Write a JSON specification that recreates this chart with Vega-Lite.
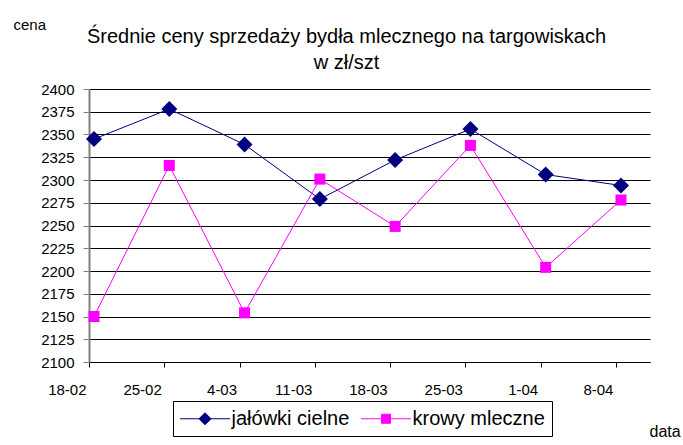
{
  "$schema": "https://vega.github.io/schema/vega-lite/v6.json",
  "autosize": "none",
  "width": 561,
  "height": 273,
  "padding": {"left": 89, "top": 89, "right": 33, "bottom": 83},
  "background": "white",
  "config": {
    "font": "Liberation Sans",
    "view": {"stroke": null},
    "axis": {"labelColor": "black", "titleColor": "black", "titleFontWeight": "normal"}
  },
  "title": {
    "text": ["Średnie ceny sprzedaży bydła mlecznego na targowiskach", "w zł/szt"],
    "fontSize": 20,
    "fontWeight": "normal",
    "color": "black",
    "anchor": "middle",
    "frame": "group",
    "baseline": "bottom",
    "lineHeight": 26.6,
    "dx": -23,
    "dy": 93,
    "offset": 17
  },
  "data": {
    "values": [
      {"data": "18-02", "seria": "jałówki cielne", "cena": 2345},
      {"data": "18-02", "seria": "krowy mleczne", "cena": 2150},
      {"data": "25-02", "seria": "jałówki cielne", "cena": 2378},
      {"data": "25-02", "seria": "krowy mleczne", "cena": 2316},
      {"data": "4-03", "seria": "jałówki cielne", "cena": 2339},
      {"data": "4-03", "seria": "krowy mleczne", "cena": 2154},
      {"data": "11-03", "seria": "jałówki cielne", "cena": 2279},
      {"data": "11-03", "seria": "krowy mleczne", "cena": 2301},
      {"data": "18-03", "seria": "jałówki cielne", "cena": 2322},
      {"data": "18-03", "seria": "krowy mleczne", "cena": 2249},
      {"data": "25-03", "seria": "jałówki cielne", "cena": 2356},
      {"data": "25-03", "seria": "krowy mleczne", "cena": 2338},
      {"data": "1-04", "seria": "jałówki cielne", "cena": 2306},
      {"data": "1-04", "seria": "krowy mleczne", "cena": 2204},
      {"data": "8-04", "seria": "jałówki cielne", "cena": 2294},
      {"data": "8-04", "seria": "krowy mleczne", "cena": 2278}
    ]
  },
  "encoding": {
    "x": {
      "field": "data",
      "type": "ordinal",
      "sort": null,
      "scale": {"type": "point", "padding": 0.226, "align": 0.147},
      "axis": {
        "title": "data",
        "titleFontSize": 16,
        "titleAlign": "left",
        "titleBaseline": "alphabetic",
        "titleX": 560,
        "titleY": 74,
        "labelAngle": 0,
        "labelFontSize": 15,
        "labelAlign": "right",
        "labelBaseline": "alphabetic",
        "labelOffset": -3,
        "labelPadding": 27,
        "tickOffset": -5,
        "tickSize": 5,
        "tickColor": "black",
        "domainColor": "black",
        "domainWidth": 1,
        "grid": false
      }
    },
    "y": {
      "field": "cena",
      "type": "quantitative",
      "scale": {"domain": [2100, 2400], "nice": false, "zero": false},
      "axis": {
        "title": "cena",
        "titleFontSize": 15,
        "titleAngle": 0,
        "titleAlign": "left",
        "titleBaseline": "alphabetic",
        "titleX": -76,
        "titleY": -59.5,
        "values": [2100, 2125, 2150, 2175, 2200, 2225, 2250, 2275, 2300, 2325, 2350, 2375, 2400],
        "format": "d",
        "labelFontSize": 15,
        "labelPadding": 9,
        "tickSize": 6,
        "tickColor": "#808080",
        "domainColor": "#808080",
        "domainWidth": 2,
        "grid": true,
        "gridColor": "black",
        "gridWidth": 1,
        "gridOpacity": 1
      }
    }
  },
  "layer": [
    {
      "mark": {"type": "line", "strokeWidth": 1},
      "encoding": {
        "color": {
          "field": "seria",
          "type": "nominal",
          "scale": {"domain": ["jałówki cielne", "krowy mleczne"], "range": ["#000080", "#FF00FF"]},
          "legend": {
            "title": null,
            "orient": "none",
            "legendX": 84,
            "legendY": 312,
            "direction": "horizontal",
            "strokeColor": "black",
            "padding": 7,
            "labelFontSize": 20,
            "labelColor": "black",
            "symbolSize": 400,
            "symbolOffset": 14.5,
            "labelOffset": 16,
            "columnPadding": 9,
            "symbolStrokeWidth": 1,
            "encode": {
              "symbols": {
                "update": {
                  "shape": {"signal": "datum.value === 'krowy mleczne' ? 'M-2.5,0L2.5,0M-0.45,-0.45L0.45,-0.45L0.45,0.45L-0.45,0.45Z' : 'M-2.5,0L2.5,0M0,-0.6L0.6,0L0,0.6L-0.6,0Z'"},
                  "fill": {"signal": "datum.value === 'krowy mleczne' ? '#FF00FF' : '#000080'"}
                }
              }
            }
          }
        }
      }
    },
    {
      "transform": [{"filter": "datum.seria === 'jałówki cielne'"}],
      "mark": {"type": "point", "shape": "diamond", "size": 256, "filled": true, "opacity": 1, "color": "#000080"}
    },
    {
      "transform": [{"filter": "datum.seria === 'krowy mleczne'"}],
      "mark": {"type": "point", "shape": "square", "size": 121, "filled": true, "opacity": 1, "color": "#FF00FF"}
    }
  ]
}
